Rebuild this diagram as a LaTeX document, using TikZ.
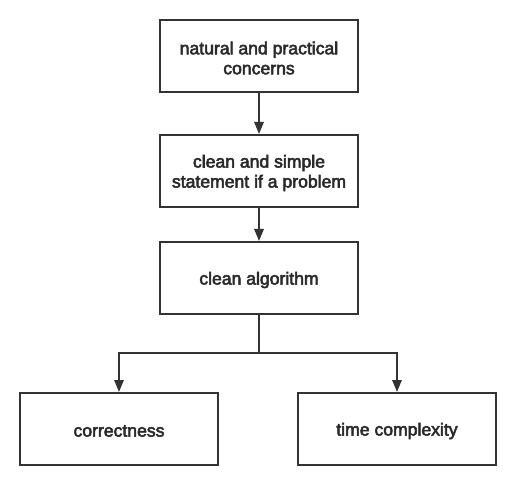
\documentclass[tikz,border=0pt]{standalone}
\usepackage{fontspec}
\setmainfont{Liberation Sans}
\newfontfamily\lblfont{Liberation Sans}[FakeBold=3]
\usetikzlibrary{arrows.meta}
\definecolor{ink}{HTML}{2A2A2A}
\definecolor{edge}{HTML}{333333}
\tikzset{
  box/.style={draw=edge, line width=1.5pt, fill=white, minimum width=148.5pt, minimum height=54pt,
    inner sep=0pt},
  lbl/.style={text=ink, align=center, font=\lblfont\fontsize{13.2}{15}\selectfont},
  conn/.style={draw=edge, line width=1.5pt, -{Triangle[length=9pt,width=7pt]}},
}
\begin{document}
\begin{tikzpicture}[x=0.75pt,y=-0.75pt]
\useasboundingbox (0,0) rectangle (515,485);
\node[box] (n1) at (259,56) {};
\node[box] (n2) at (259,171) {};
\node[box] (n3) at (259,278) {};
\node[box] (n4) at (119,429) {};
\node[box] (n5) at (397,429) {};
\node[lbl] (t1) at (259,58) {natural and practical\\concerns};
\node[lbl] (t2) at (259,173) {clean and simple\\statement if a problem};
\node[lbl] (t3) at (259,280) {clean algorithm};
\node[lbl] (t4) at (119,431) {correctness};
\node[lbl] (t5) at (397,431) {time complexity};
\coordinate (j) at (259,353);
\draw[conn] (n1) -- (n2);
\draw[conn] (n2) -- (n3);
\draw[conn] (n3.south) -- (j) -| (n4.north);
\draw[conn] (j) -| (n5.north);
\end{tikzpicture}
\end{document}
